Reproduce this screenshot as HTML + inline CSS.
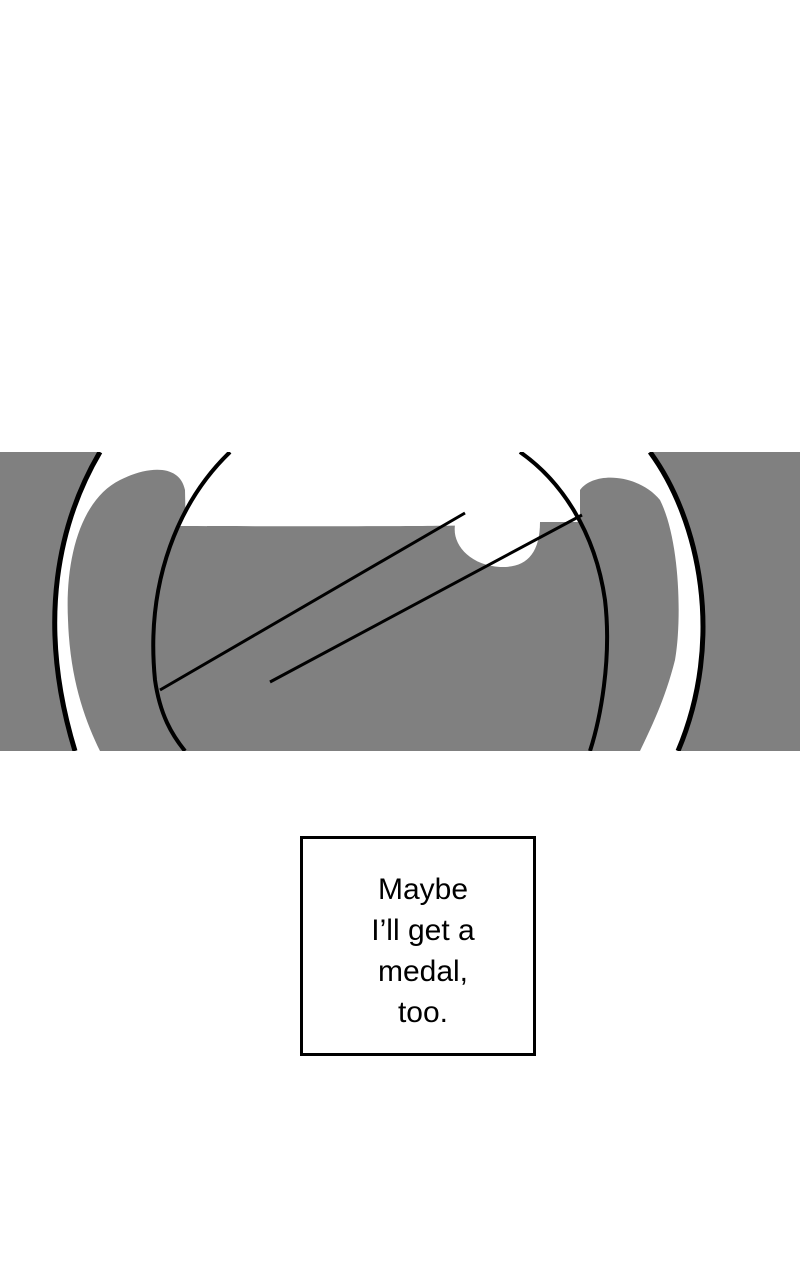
<!DOCTYPE html>
<html><head><meta charset="utf-8"><style>
html,body{margin:0;padding:0;background:#fff;width:800px;height:1280px;overflow:hidden}
.box{position:absolute;left:300px;top:836px;width:230px;height:214px;border:3px solid #000;background:#fff;
font-family:"Liberation Sans",sans-serif;font-size:30px;line-height:41px;text-align:center;color:#000;
display:flex;align-items:center;justify-content:center}
.box div{padding-top:10px;padding-left:10px}
</style></head><body>
<svg width="800" height="1280" style="position:absolute;left:0;top:0">
<defs><clipPath id="c"><rect x="0" y="452" width="800" height="299"/></clipPath></defs>
<g clip-path="url(#c)">
<rect x="0" y="452" width="800" height="299" fill="#808080"/>
<path d="M100,452 C60,520 35,620 75,751 L678,751 C720,640 705,520 650,452 Z" fill="#fff"/>
<path d="M185,490 C180,465 150,465 120,480 C80,500 65,560 68,620 C70,680 85,720 100,751 L190,751 L185,490 Z" fill="#808080"/>
<path d="M580,490 C595,470 640,475 660,500 C680,540 682,620 675,660 C665,700 650,730 640,751 L580,751 Z" fill="#808080"/>
<path d="M230,452 C180,500 150,580 160,680 C165,715 175,735 185,751 L590,751 C605,700 612,600 580,520 C565,490 545,465 520,452 Z" fill="#808080"/>
<path d="M230,452 L520,452 C545,470 565,495 578,522 L532,522 C520,525 470,527 180,526 C195,495 210,470 230,452 Z" fill="#fff"/>
<path d="M455,525 C452,545 470,565 500,567 C525,568 540,555 540,522 L495,505 Z" fill="#fff"/>
<path d="M100,452 C60,520 35,620 75,751" fill="none" stroke="#000" stroke-width="5"/>
<path d="M650,452 C700,520 725,640 678,751" fill="none" stroke="#000" stroke-width="5"/>
<path d="M230,452 C180,500 145,580 155,680 C160,715 172,735 185,751" fill="none" stroke="#000" stroke-width="4"/>
<path d="M520,452 C560,480 595,530 605,600 C612,660 600,720 590,751" fill="none" stroke="#000" stroke-width="4"/>
<path d="M160,690 L465,513" stroke="#000" stroke-width="3"/>
<path d="M270,682 L582,515" stroke="#000" stroke-width="3"/>
</g>
</svg>
<div class="box"><div>Maybe<br>I’ll get a<br>medal,<br>too.</div></div>
</body></html>
